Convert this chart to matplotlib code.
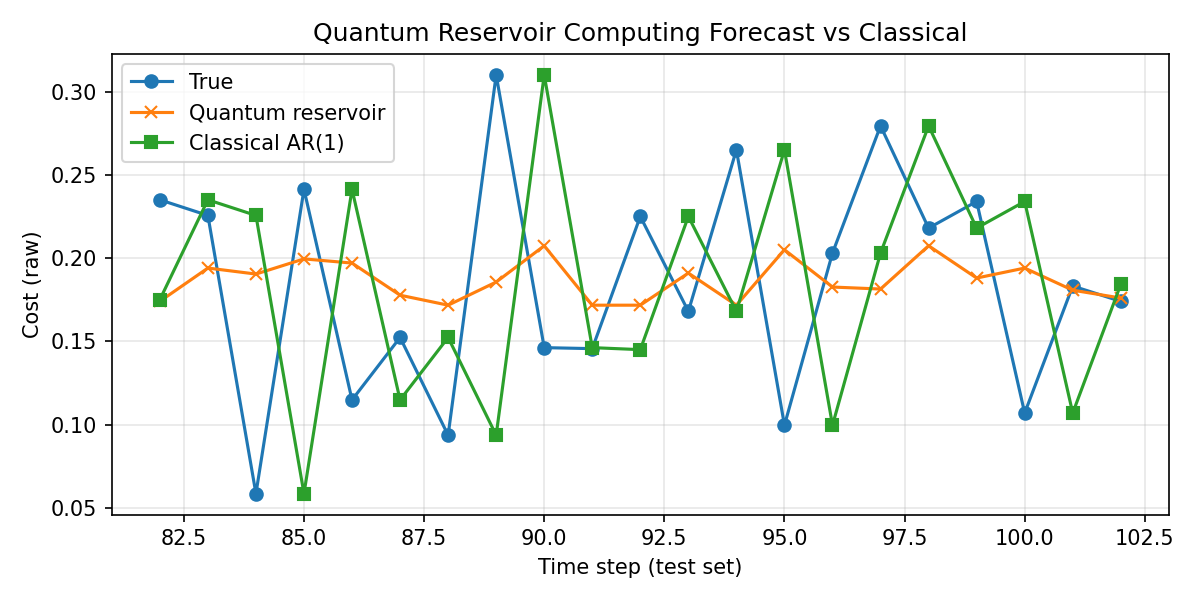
import numpy as np
import matplotlib
matplotlib.use('Agg')
import matplotlib.pyplot as plt

# time steps of the test set
steps = np.arange(82, 103)

# observed cost
true_vals = [0.235, 0.2256, 0.0585, 0.2413, 0.1148, 0.1523, 0.0936, 0.310,
             0.1462, 0.1456, 0.225, 0.168, 0.265, 0.0996, 0.203, 0.2794,
             0.218, 0.234, 0.1069, 0.1832, 0.174]

# quantum reservoir forecast
quantum_vals = [0.174, 0.194, 0.1904, 0.1995, 0.197, 0.1777, 0.1717, 0.1856,
                0.2074, 0.1717, 0.1717, 0.191, 0.1717, 0.205, 0.1826, 0.1814,
                0.2074, 0.188, 0.194, 0.1807, 0.176]

# classical AR(1) forecast
classical_vals = [0.175, 0.235, 0.2256, 0.0585, 0.2413, 0.1148, 0.1523, 0.0936,
                  0.310, 0.1462, 0.145, 0.225, 0.168, 0.265, 0.0996, 0.203,
                  0.2794, 0.218, 0.234, 0.1069, 0.1842]

fig, ax = plt.subplots(figsize=(8, 4), dpi=150)
ax.plot(steps, true_vals, marker='o', label='True')
ax.plot(steps, quantum_vals, marker='x', label='Quantum reservoir')
ax.plot(steps, classical_vals, marker='s', label='Classical AR(1)')

ax.set_title('Quantum Reservoir Computing Forecast vs Classical')
ax.set_xlabel('Time step (test set)')
ax.set_ylabel('Cost (raw)')
ax.legend(loc='upper left')
ax.grid(True, alpha=0.3)

plt.tight_layout()
plt.savefig('out.png')
